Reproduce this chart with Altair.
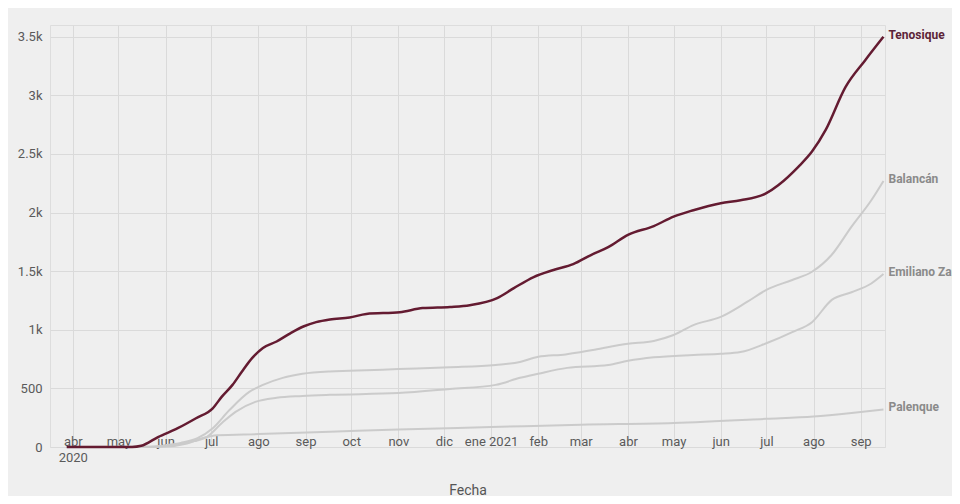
import altair as alt
import pandas as pd

MAROON = "#641b31"
MAROON_TEXT = "#5c2438"
GRAY_LINE = "#cbcbcb"
FONT = "Roboto, 'Noto Sans', sans-serif"

TEN_DATES = ["2020-03-28", "2020-05-10", "2020-05-16", "2020-05-27", "2020-06-09", "2020-06-21",
             "2020-07-02", "2020-07-08", "2020-07-15", "2020-07-21", "2020-07-28", "2020-08-04",
             "2020-08-13", "2020-08-22", "2020-08-31", "2020-09-08", "2020-09-17", "2020-09-30",
             "2020-10-11", "2020-11-02", "2020-11-17", "2020-12-05", "2020-12-18", "2021-01-05",
             "2021-01-16", "2021-01-29", "2021-02-11", "2021-02-24", "2021-03-08", "2021-03-19",
             "2021-04-01", "2021-04-18", "2021-05-01", "2021-05-14", "2021-06-01", "2021-06-14",
             "2021-07-01", "2021-07-09", "2021-07-22", "2021-07-31", "2021-08-09", "2021-08-22",
             "2021-09-04", "2021-09-16"]
TEN_VALUES = [0, 0, 10, 85, 160, 245,
              330, 430, 530, 640, 760, 845,
              900, 970, 1030, 1065, 1088, 1105,
              1135, 1150, 1185, 1195, 1210, 1270,
              1355, 1450, 1510, 1560, 1640, 1705,
              1810, 1885, 1965, 2020, 2080, 2105,
              2165, 2235, 2390, 2520, 2705, 3070,
              3300, 3500]

BAL_DATES = ["2020-03-28", "2020-05-20", "2020-06-01", "2020-06-11", "2020-06-22", "2020-07-02",
             "2020-07-13", "2020-07-26", "2020-08-04", "2020-08-17", "2020-08-30", "2020-09-17",
             "2020-09-30", "2020-11-01", "2020-12-05", "2021-01-04", "2021-01-20", "2021-02-01",
             "2021-02-19", "2021-03-10", "2021-04-01", "2021-04-18", "2021-05-01", "2021-05-14",
             "2021-06-01", "2021-06-18", "2021-07-01", "2021-07-18", "2021-07-31", "2021-08-13",
             "2021-08-26", "2021-09-08", "2021-09-16"]
BAL_VALUES = [0, 0, 15, 35, 75, 160,
              315, 470, 530, 590, 625, 645,
              650, 665, 680, 700, 725, 770,
              790, 830, 880, 905, 955, 1040,
              1110, 1235, 1340, 1425, 1495, 1640,
              1880, 2105, 2270]

EZ_DATES = ["2020-03-28", "2020-05-25", "2020-06-10", "2020-06-20", "2020-06-28", "2020-07-08",
            "2020-07-17", "2020-07-30", "2020-08-13", "2020-08-30", "2020-09-17", "2020-11-01",
            "2020-12-05", "2021-01-04", "2021-01-20", "2021-02-01", "2021-02-20", "2021-03-19",
            "2021-04-01", "2021-04-18", "2021-05-14", "2021-06-01", "2021-06-14", "2021-07-01",
            "2021-07-18", "2021-07-31", "2021-08-13", "2021-08-26", "2021-09-08", "2021-09-16"]
EZ_VALUES = [0, 0, 25, 50, 85, 205,
             300, 385, 420, 435, 445, 460,
             495, 530, 590, 625, 675, 700,
             735, 765, 785, 795, 810, 885,
             980, 1065, 1255, 1320, 1395, 1475]

PAL_DATES = ["2020-03-28", "2020-06-01", "2020-06-15", "2020-06-25", "2020-07-05", "2020-08-01",
             "2020-09-17", "2020-11-01", "2021-01-01", "2021-03-01", "2021-05-01", "2021-07-01",
             "2021-08-01", "2021-08-26", "2021-09-16"]
PAL_VALUES = [0, 5, 30, 75, 100, 110,
              130, 150, 170, 190, 205, 240,
              260, 290, 320]

SERIES = [("Tenosique", TEN_DATES, TEN_VALUES),
          ("Balancán", BAL_DATES, BAL_VALUES),
          ("Emiliano Zapata", EZ_DATES, EZ_VALUES),
          ("Palenque", PAL_DATES, PAL_VALUES)]

MONTH_NAMES = ["ene", "feb", "mar", "abr", "may", "jun", "jul", "ago", "sep", "oct", "nov", "dic"]
TICK_DATES = ["2020-04-01", "2020-05-01", "2020-06-01", "2020-07-01", "2020-08-01", "2020-09-01",
              "2020-10-01", "2020-11-01", "2020-12-01", "2021-01-01", "2021-02-01", "2021-03-01",
              "2021-04-01", "2021-05-01", "2021-06-01", "2021-07-01", "2021-08-01", "2021-09-01"]
Y_TICKS = [0, 500, 1000, 1500, 2000, 2500, 3000, 3500]
X_DOMAIN = ["2020-03-17", "2021-09-17"]
Y_DOMAIN = [0, 3600]

rows = []
for name, ds, vs in SERIES:
    for d, v in zip(ds, vs):
        rows.append({"serie": name, "fecha": d, "casos": v})
df = pd.DataFrame(rows)
last = df.groupby("serie", sort=False).tail(1).reset_index(drop=True)


def ms(d):
    return int(pd.Timestamp(d, tz="UTC").value // 10**6)


names_js = "[" + ",".join("'" + m + "'" for m in MONTH_NAMES) + "]"
x_label_expr = (
    "(utcyear(datum.value) == 2020 && utcmonth(datum.value) == 3) ? ['abr', '2020'] : "
    f"(utcmonth(datum.value) == 0 ? {names_js}[0] + ' ' + utcyear(datum.value) : "
    f"{names_js}[utcmonth(datum.value)])"
)
y_label_expr = "datum.value >= 1000 ? (datum.value / 1000) + 'k' : '' + datum.value"

x_enc = alt.X(
    "fecha:T",
    title="Fecha",
    scale=alt.Scale(type="utc", domain=[ms(d) for d in X_DOMAIN], nice=False),
    axis=alt.Axis(
        values=[ms(d) for d in TICK_DATES],
        labelExpr=x_label_expr,
        grid=True,
        gridColor="#dadada",
        gridWidth=1,
        ticks=False,
        domain=False,
        labelPadding=-2,
        labelBaseline="alphabetic",
        labelFontSize=13,
        labelColor="#5a5a5a",
        labelLineHeight=16,
        labelFlush=False,
        labelOverlap=False,
        titleFontSize=14,
        titleFontWeight="normal",
        titleColor="#555555",
        titleY=47,
        titleBaseline="alphabetic",
    ),
)
y_enc = alt.Y(
    "casos:Q",
    title=None,
    scale=alt.Scale(domain=Y_DOMAIN, nice=False),
    axis=alt.Axis(
        values=Y_TICKS,
        labelExpr=y_label_expr,
        grid=True,
        gridColor="#dadada",
        gridWidth=1,
        ticks=False,
        domain=False,
        labelPadding=8,
        labelFontSize=13,
        labelColor="#5a5a5a",
    ),
)

base = alt.Chart(df)

gray_lines = base.transform_filter(alt.datum.serie != "Tenosique").mark_line(
    color=GRAY_LINE, strokeWidth=2, interpolate="monotone"
).encode(x=x_enc, y=y_enc, detail="serie:N")

ten_line = base.transform_filter(alt.datum.serie == "Tenosique").mark_line(
    color=MAROON, strokeWidth=2.5, interpolate="monotone"
).encode(x=x_enc, y=y_enc)

labels = alt.Chart(last).mark_text(
    align="left", dx=5, dy=-2, fontSize=12, fontWeight="bold"
).encode(
    x="fecha:T",
    y="casos:Q",
    text="serie:N",
    color=alt.condition(alt.datum.serie == "Tenosique", alt.value(MAROON_TEXT), alt.value("#8a8a8a")),
)

chart = alt.layer(gray_lines, ten_line, labels).properties(
    width=835,
    height=422,
    padding={"left": 42, "top": 17, "right": 67, "bottom": 49},
    autosize=alt.AutoSizeParams(type="none"),
    background="#efefef",
).configure_view(stroke=None).configure(font=FONT)

chart.save("out.html", embed_options={"renderer": "svg", "actions": False})
